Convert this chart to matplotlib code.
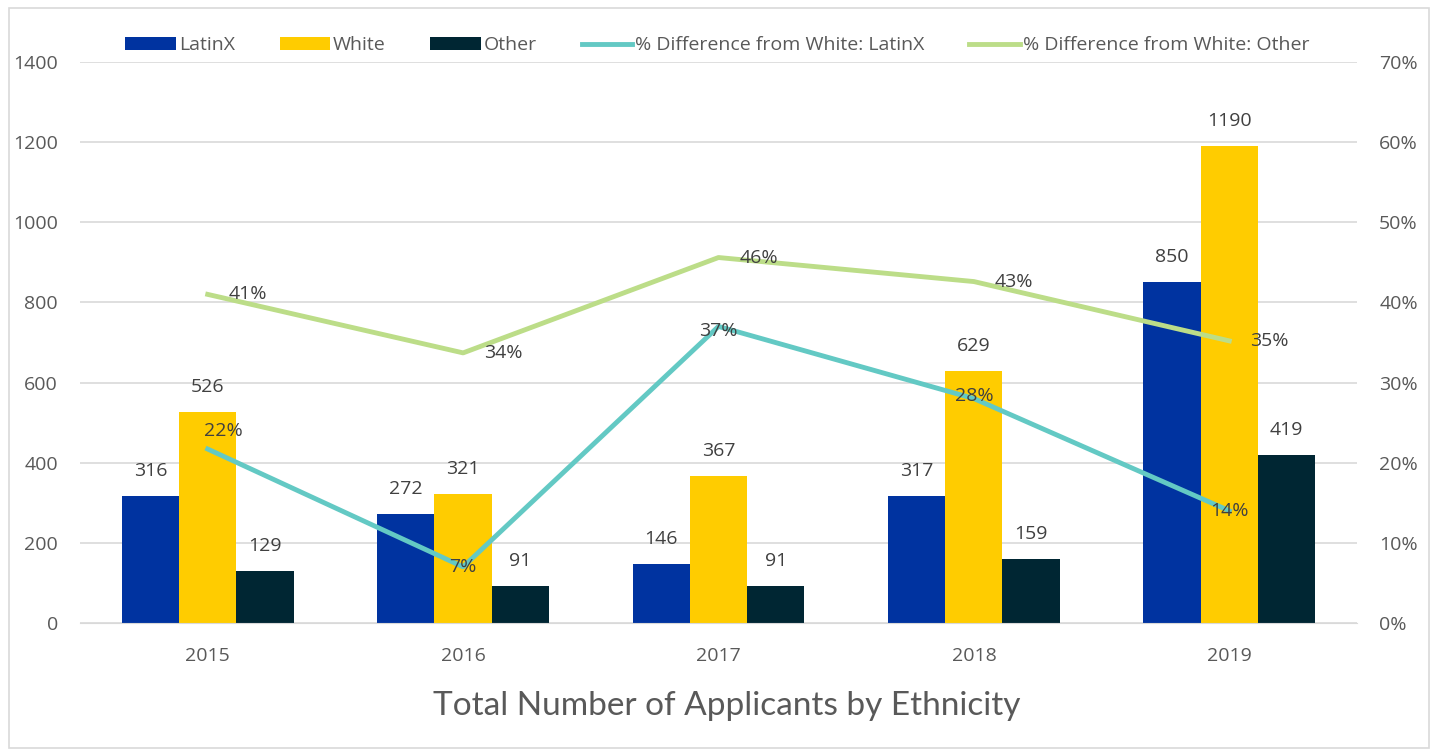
import numpy as np
import matplotlib
matplotlib.use("Agg")
import matplotlib.pyplot as plt
from matplotlib.patches import Rectangle
from matplotlib.ticker import PercentFormatter

# Daten
jahre = ["2015", "2016", "2017", "2018", "2019"]
latinx = [316, 272, 146, 317, 850]
white = [526, 321, 367, 629, 1190]
other = [129, 91, 91, 159, 419]
diff_latinx = [0.217, 0.07, 0.37, 0.28, 0.14]
diff_other = [0.41, 0.337, 0.456, 0.426, 0.352]

farbe_latinx = "#0033A0"
farbe_white = "#FFCC00"
farbe_other = "#002633"
farbe_diff_latinx = "#63C9C4"
farbe_diff_other = "#BCDD88"
grau_text = "#595959"
grau_label = "#404040"
schrift = 14

plt.rcParams["font.family"] = ["Open Sans", "DejaVu Sans"]

fig = plt.figure(figsize=(14.39, 7.56), dpi=100)
ax = fig.add_axes([0.0556, 0.176, 0.8874, 0.742])
ax2 = ax.twinx()

x = np.arange(len(jahre))
breite = 0.224

b1 = ax.bar(x - breite, latinx, breite, color=farbe_latinx, label="LatinX", zorder=2)
b2 = ax.bar(x, white, breite, color=farbe_white, label="White", zorder=2)
b3 = ax.bar(x + breite, other, breite, color=farbe_other, label="Other", zorder=2)

for bars in (b1, b2, b3):
    for rect in bars:
        h = rect.get_height()
        ax.annotate(str(int(h)), (rect.get_x() + rect.get_width() / 2, h),
                    xytext=(0, 18), textcoords="offset points",
                    ha="center", va="center", fontsize=schrift, color=grau_label)

l1, = ax2.plot(x, diff_latinx, color=farbe_diff_latinx, lw=3.5,
               label="% Difference from White: LatinX", zorder=3)
l2, = ax2.plot(x, diff_other, color=farbe_diff_other, lw=3.5,
               label="% Difference from White: Other", zorder=3)

# Beschriftungen der Linien
versatz_latinx = [(11, 13), (0, 0), (0, -3), (0, 2), (0, 0)]
for xi, v, off in zip(x, diff_latinx, versatz_latinx):
    ax2.annotate("{:.0%}".format(v), (xi, v), xytext=off, textcoords="offset points",
                 ha="center", va="center", fontsize=schrift, color=grau_label, zorder=4)
for xi, v in zip(x, diff_other):
    ax2.annotate("{:.0%}".format(v), (xi, v), xytext=(15, 0), textcoords="offset points",
                 ha="left", va="center", fontsize=schrift, color=grau_label, zorder=4)

ax.set_xlim(-0.5, len(jahre) - 0.5)
ax.set_ylim(0, 1400)
ax.set_yticks(range(0, 1401, 200))
ax2.set_ylim(0, 0.7)
ax2.set_yticks(np.arange(0, 0.71, 0.1))
ax2.yaxis.set_major_formatter(PercentFormatter(1.0, decimals=0))
ax.set_xticks(x)
ax.set_xticklabels(jahre)

for a in (ax, ax2):
    for s in a.spines.values():
        s.set_visible(False)
    a.tick_params(length=0, labelsize=schrift, colors=grau_text)
ax.tick_params(axis="y", pad=16)
ax2.tick_params(axis="y", pad=16)
ax.tick_params(axis="x", pad=17)
ax.yaxis.grid(True, color="#D9D9D9", lw=1.2, zorder=0)
ax.set_axisbelow(True)
ax.spines["bottom"].set_visible(True)
ax.spines["bottom"].set_color("#D9D9D9")

fig.text(0.505, 0.066, "Total Number of Applicants by Ethnicity", ha="center", va="center",
         fontsize=24, color=grau_text, family=["Lato", "DejaVu Sans"])

handles = [b1, b2, b3, l1, l2]
leg = fig.legend(handles, [h.get_label() for h in handles], loc="center",
                 bbox_to_anchor=(0.4985, 0.94), ncol=5, frameon=False, fontsize=schrift,
                 handlelength=2.6, handleheight=0.6, handletextpad=0.15, columnspacing=2.3)
for t in leg.get_texts():
    t.set_color(grau_text)

fig.patches.append(Rectangle((0.006, 0.01), 0.987, 0.98, transform=fig.transFigure,
                             fill=False, edgecolor="#D9D9D9", lw=1.2))

fig.savefig("out.png", dpi=100)
